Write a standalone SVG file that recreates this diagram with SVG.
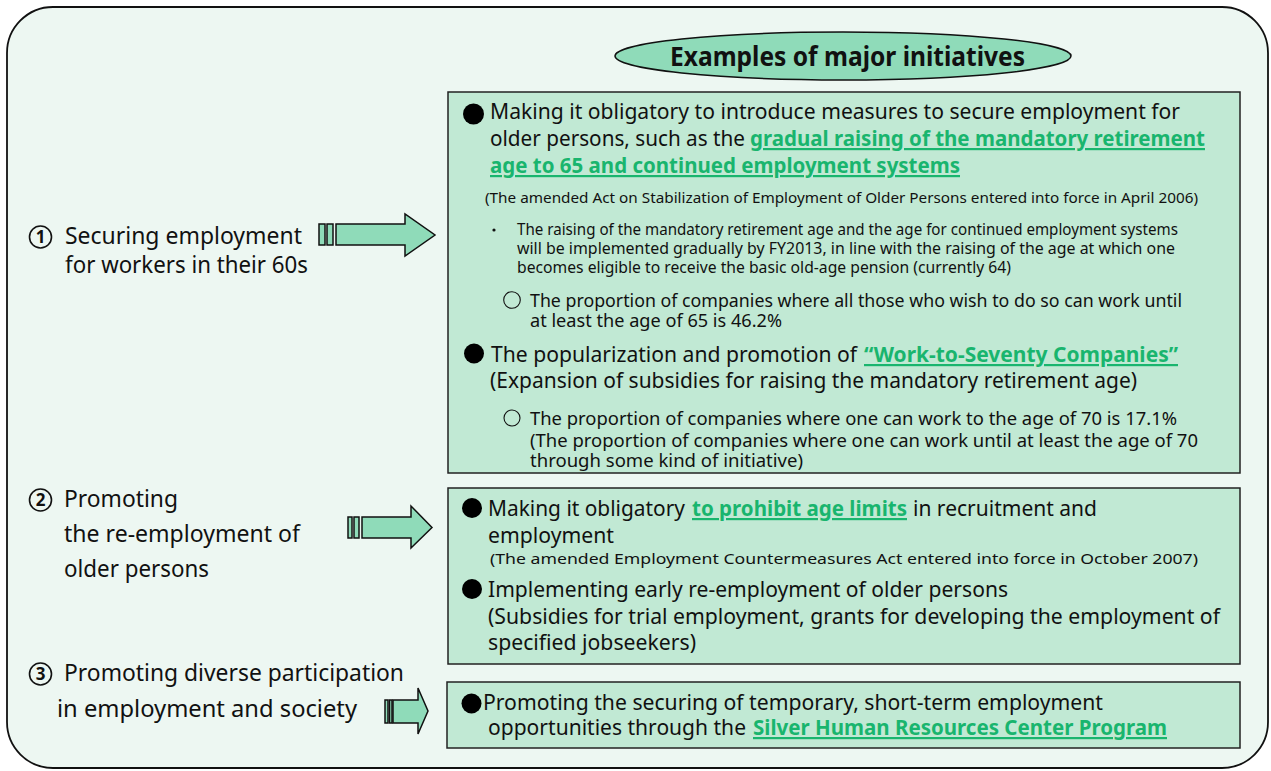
<svg xmlns="http://www.w3.org/2000/svg" width="1271" height="771" viewBox="0 0 1271 771">
  <style>
    .frame { fill: #EDF7F2; stroke: #111; stroke-width: 1.8; }
    .box { fill: #C1E9D4; stroke: #222; stroke-width: 1.5; }
    .pill { fill: #8FDBB9; stroke: #111; stroke-width: 1.5; }
    .arrow { fill: #8FDBB9; stroke: #111; stroke-width: 1.5; stroke-linejoin: miter; }
    text { font-family: "Noto Sans", "Open Sans", "DejaVu Sans", sans-serif; fill: #111; }
    .title { font-size: 27px; font-weight: bold; }
    .lbl { font-size: 23px; }
    .main { font-size: 22px; }
    .mid { font-size: 18px; }
    .small { font-size: 15.5px; }
    .tiny { font-size: 15px; }
    .hl { fill: #19B56E; font-weight: bold; text-decoration: underline; }
    .num { fill: none; stroke: #111; stroke-width: 1.6; }
    .numtxt { font-size: 17px; font-weight: bold; text-anchor: middle; }
  </style>

  <!-- outer rounded frame -->
  <rect class="frame" x="7" y="7" width="1261" height="761" rx="46" ry="46"/>

  <!-- heading -->
  <g id="heading">
    <ellipse class="pill" cx="843" cy="56" rx="228" ry="24"/>
    <text class="title" x="670" y="66" textLength="355" lengthAdjust="spacingAndGlyphs">Examples of major initiatives</text>
  </g>

  <!-- left-hand goals -->
  <g id="goal1">
    <circle class="num" cx="40.5" cy="237" r="11"/>
    <text class="numtxt" x="40.5" y="243">1</text>
    <text class="lbl" x="65" y="244" textLength="237" lengthAdjust="spacingAndGlyphs">Securing employment</text>
    <text class="lbl" x="65" y="273" textLength="243" lengthAdjust="spacingAndGlyphs">for workers in their 60s</text>
  </g>
  <g id="goal2">
    <circle class="num" cx="40.5" cy="500" r="11"/>
    <text class="numtxt" x="40.5" y="506">2</text>
    <text class="lbl" x="64" y="507" textLength="114" lengthAdjust="spacingAndGlyphs">Promoting</text>
    <text class="lbl" x="64" y="542" textLength="236" lengthAdjust="spacingAndGlyphs">the re-employment of</text>
    <text class="lbl" x="64" y="577" textLength="145" lengthAdjust="spacingAndGlyphs">older persons</text>
  </g>
  <g id="goal3">
    <circle class="num" cx="40.5" cy="674" r="11"/>
    <text class="numtxt" x="40.5" y="680">3</text>
    <text class="lbl" x="64" y="681" textLength="340" lengthAdjust="spacingAndGlyphs">Promoting diverse participation</text>
    <text class="lbl" x="57" y="717" textLength="300" lengthAdjust="spacingAndGlyphs">in employment and society</text>
  </g>

  <!-- initiatives for workers in their 60s -->
  <g id="initiatives1">
    <rect class="box" x="448" y="92" width="792" height="381"/>
    <circle cx="473.5" cy="114" r="10.5" fill="#000"/>
    <text class="main" x="490" y="119" textLength="690" lengthAdjust="spacingAndGlyphs">Making it obligatory to introduce measures to secure employment for</text>
    <text class="main" x="490" y="146" textLength="255" lengthAdjust="spacingAndGlyphs">older persons, such as the</text>
    <text class="main hl" x="750" y="146" textLength="455" lengthAdjust="spacingAndGlyphs">gradual raising of the mandatory retirement</text>
    <text class="main hl" x="490" y="173" textLength="470" lengthAdjust="spacingAndGlyphs">age to 65 and continued employment systems</text>
    <text class="tiny" x="485" y="203" textLength="713" lengthAdjust="spacingAndGlyphs">(The amended Act on Stabilization of Employment of Older Persons entered into force in April 2006)</text>
    <circle cx="494" cy="230" r="1.6" fill="#111"/>
    <text class="small" x="517" y="235" textLength="661" lengthAdjust="spacingAndGlyphs">The raising of the mandatory retirement age and the age for continued employment systems</text>
    <text class="small" x="517" y="254" textLength="658" lengthAdjust="spacingAndGlyphs">will be implemented gradually by FY2013, in line with the raising of the age at which one</text>
    <text class="small" x="517" y="273" textLength="494" lengthAdjust="spacingAndGlyphs">becomes eligible to receive the basic old-age pension (currently 64)</text>
    <circle cx="512" cy="300" r="8.3" fill="none" stroke="#111" stroke-width="1.1"/>
    <text class="mid" x="530" y="307" textLength="652" lengthAdjust="spacingAndGlyphs">The proportion of companies where all those who wish to do so can work until</text>
    <text class="mid" x="530" y="327" textLength="252" lengthAdjust="spacingAndGlyphs">at least the age of 65 is 46.2%</text>
    <circle cx="474" cy="353.5" r="10" fill="#000"/>
    <text class="main" x="491" y="362" textLength="366" lengthAdjust="spacingAndGlyphs">The popularization and promotion of</text>
    <text class="main hl" x="864" y="362" textLength="314" lengthAdjust="spacingAndGlyphs">“Work-to-Seventy Companies”</text>
    <text class="main" x="490" y="388" textLength="647" lengthAdjust="spacingAndGlyphs">(Expansion of subsidies for raising the mandatory retirement age)</text>
    <circle cx="512" cy="418" r="8" fill="none" stroke="#111" stroke-width="1.1"/>
    <text class="mid" x="530" y="425" textLength="647" lengthAdjust="spacingAndGlyphs">The proportion of companies where one can work to the age of 70 is 17.1%</text>
    <text class="mid" x="530" y="447" textLength="668" lengthAdjust="spacingAndGlyphs">(The proportion of companies where one can work until at least the age of 70</text>
    <text class="mid" x="530" y="467" textLength="273" lengthAdjust="spacingAndGlyphs">through some kind of initiative)</text>
  </g>

  <!-- initiatives for re-employment -->
  <g id="initiatives2">
    <rect class="box" x="448" y="488" width="792" height="176"/>
    <circle cx="472" cy="508" r="10" fill="#000"/>
    <text class="main" x="488" y="516" textLength="197" lengthAdjust="spacingAndGlyphs">Making it obligatory</text>
    <text class="main hl" x="692" y="516" textLength="215" lengthAdjust="spacingAndGlyphs">to prohibit age limits</text>
    <text class="main" x="913" y="516" textLength="184" lengthAdjust="spacingAndGlyphs">in recruitment and</text>
    <text class="main" x="488" y="543" textLength="126" lengthAdjust="spacingAndGlyphs">employment</text>
    <text class="tiny" x="490" y="564" textLength="708" lengthAdjust="spacingAndGlyphs">(The amended Employment Countermeasures Act entered into force in October 2007)</text>
    <circle cx="472" cy="589" r="10" fill="#000"/>
    <text class="main" x="488" y="597" textLength="520" lengthAdjust="spacingAndGlyphs">Implementing early re-employment of older persons</text>
    <text class="main" x="488" y="624" textLength="732" lengthAdjust="spacingAndGlyphs">(Subsidies for trial employment, grants for developing the employment of</text>
    <text class="main" x="488" y="650" textLength="208" lengthAdjust="spacingAndGlyphs">specified jobseekers)</text>
  </g>

  <!-- initiatives for diverse participation -->
  <g id="initiatives3">
    <rect class="box" x="447" y="682" width="793" height="66"/>
    <circle cx="471.5" cy="703.5" r="10" fill="#000"/>
    <text class="main" x="483" y="710" textLength="620" lengthAdjust="spacingAndGlyphs">Promoting the securing of temporary, short-term employment</text>
    <text class="main" x="488" y="735" textLength="258" lengthAdjust="spacingAndGlyphs">opportunities through the</text>
    <text class="main hl" x="753" y="735" textLength="414" lengthAdjust="spacingAndGlyphs">Silver Human Resources Center Program</text>
  </g>

  <!-- block arrows linking goals to initiatives -->
  <g id="connectors">
    <rect class="arrow" x="319" y="224" width="6" height="21"/>
    <rect class="arrow" x="327" y="224" width="6" height="21"/>
    <polygon class="arrow" points="336,224 405,224 405,214 435,235 405,256 405,245 336,245"/>

    <rect class="arrow" x="348" y="517" width="4" height="21"/>
    <rect class="arrow" x="354" y="517" width="5" height="21"/>
    <polygon class="arrow" points="362,517 411,517 411,506 432,527.5 411,548 411,538 362,538"/>

    <rect class="arrow" x="385" y="700" width="3" height="23" fill="#111"/>
    <rect class="arrow" x="389.5" y="700" width="2.5" height="23"/>
    <polygon class="arrow" points="393,700 418,700 418,688 428,711 418,734 418,723 393,723"/>
  </g>
</svg>
